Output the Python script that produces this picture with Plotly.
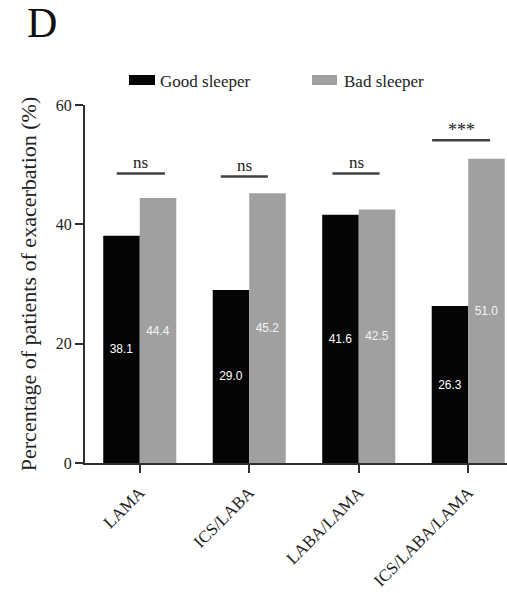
import plotly.graph_objects as go

categories = ["LAMA", "ICS/LABA", "LABA/LAMA", "ICS/LABA/LAMA"]
good_sleeper = [38.1, 29.0, 41.6, 26.3]
bad_sleeper = [44.4, 45.2, 42.5, 51.0]
significance = ["ns", "ns", "ns", "***"]
sig_line_y = [48.5, 48.0, 48.5, 54.1]
sig_line_x0 = [-0.21, 0.74, 1.76, 2.67]
sig_line_x1 = [0.23, 1.17, 2.19, 3.20]
y_ticks = [0, 20, 40, 60]

SERIF = "Liberation Serif, Times New Roman, serif"
SANS = "Liberation Sans, Arial, sans-serif"
BLACK = "#050505"
GRAY = "#a0a0a0"
AX = "#303030"

W, H = 507, 593
ML, MR, MT, MB = 85, 0, 105, 130

fig = go.Figure()
fig.add_trace(go.Bar(x=categories, y=good_sleeper, name="Good sleeper",
                     marker=dict(color=BLACK, line=dict(width=0)),
                     text=[f"{v:.1f}" for v in good_sleeper], textposition="inside",
                     insidetextanchor="middle", textangle=0,
                     textfont=dict(family=SANS, size=12, color="white")))
fig.add_trace(go.Bar(x=categories, y=bad_sleeper, name="Bad sleeper",
                     marker=dict(color=GRAY, line=dict(width=0)),
                     text=[f"{v:.1f}" for v in bad_sleeper], textposition="inside",
                     insidetextanchor="middle", textangle=0,
                     textfont=dict(family=SANS, size=12, color="#f4f4f4")))

shapes = []
annotations = []
for i, s in enumerate(significance):
    shapes.append(dict(type="line", xref="x", yref="y",
                       x0=sig_line_x0[i], x1=sig_line_x1[i],
                       y0=sig_line_y[i], y1=sig_line_y[i],
                       line=dict(color="#404040", width=2.5)))
    annotations.append(dict(x=(sig_line_x0[i] + sig_line_x1[i]) / 2, y=sig_line_y[i],
                            xref="x", yref="y", text=s, showarrow=False,
                            yanchor="bottom", yshift=0 if s == "ns" else -2,
                            font=dict(family=SERIF, size=17 if s == "ns" else 18, color="#222")))

# manual legend (paper coords are relative to plot area)
PW, PH = W - ML - MR, H - MT - MB
def px(x): return (x - ML) / PW
def py(y): return (H - MB - y) / PH
shapes.append(dict(type="rect", xref="paper", yref="paper",
                   x0=px(129), x1=px(155), y0=py(85), y1=py(75),
                   fillcolor=BLACK, line=dict(width=0)))
shapes.append(dict(type="rect", xref="paper", yref="paper",
                   x0=px(312), x1=px(337), y0=py(85), y1=py(75),
                   fillcolor=GRAY, line=dict(width=0)))
annotations.append(dict(x=px(158), y=py(81), xref="paper", yref="paper",
                        text="Good sleeper", showarrow=False, xanchor="left",
                        yanchor="middle", font=dict(family=SERIF, size=17, color="#222")))
annotations.append(dict(x=px(342), y=py(81), xref="paper", yref="paper",
                        text="Bad sleeper", showarrow=False, xanchor="left",
                        yanchor="middle", font=dict(family=SERIF, size=17, color="#222")))
annotations.append(dict(x=px(25), y=py(23), xref="paper", yref="paper",
                        text="D", showarrow=False, xanchor="left",
                        yanchor="middle", font=dict(family=SERIF, size=42, color="#111")))

fig.update_layout(
    width=W, height=H,
    margin=dict(l=ML, r=MR, t=MT, b=MB, autoexpand=False),
    paper_bgcolor="white", plot_bgcolor="white",
    barmode="group", bargap=0.333, bargroupgap=0,
    showlegend=False,
    shapes=shapes, annotations=annotations,
)
fig.update_xaxes(range=[-0.5, 3.354], showline=True, linecolor=AX, linewidth=2,
                 ticks="outside", ticklen=8, tickwidth=2, tickcolor=AX,
                 tickangle=-45, ticklabelstandoff=3,
                 tickfont=dict(family=SERIF, size=17, color="#222"),
                 showgrid=False, zeroline=False)
fig.update_yaxes(range=[0, 60], tickvals=y_ticks, showline=True, linecolor=AX, linewidth=2,
                 ticks="outside", ticklen=8, tickwidth=2, tickcolor=AX,
                 tickfont=dict(family=SERIF, size=16, color="#222"),
                 title=dict(text="Percentage of patients of exacerbation (%)",
                            font=dict(family=SERIF, size=22, color="#222"), standoff=13),
                 showgrid=False, zeroline=False)

fig.write_html("out.html", config={"displayModeBar": False},
               post_script="document.body.style.margin='0';")
